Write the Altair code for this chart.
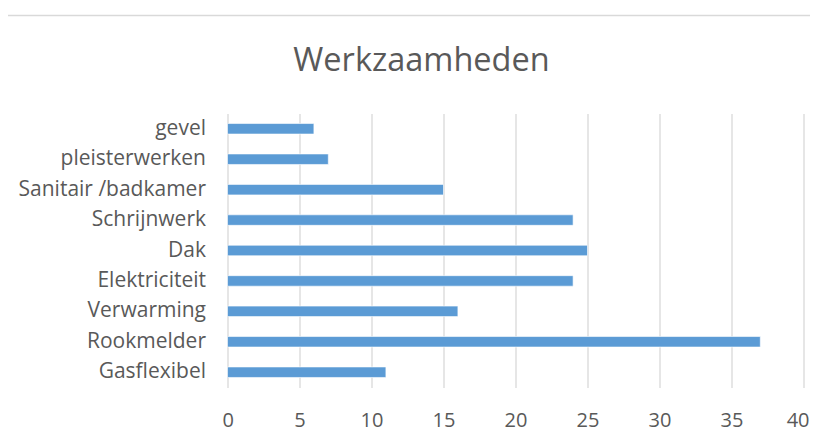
import altair as alt
import pandas as pd

categories = ["gevel", "pleisterwerken", "Sanitair /badkamer", "Schrijnwerk", "Dak",
              "Elektriciteit", "Verwarming", "Rookmelder", "Gasflexibel"]
values = [6, 7, 15, 24, 25, 24, 16, 37, 11]
x_ticks = [0, 5, 10, 15, 20, 25, 30, 35, 40]
title_text = "Werkzaamheden"

df = pd.DataFrame({"cat": categories, "val": values})

FONT = "Open Sans"
TXT = "#595959"

bars = alt.Chart(df).mark_bar(color="#5B9BD5", stroke="#ffffff", strokeWidth=0.6).encode(
    y=alt.Y("cat:N", sort=categories, title=None,
            scale=alt.Scale(paddingInner=0.655, paddingOuter=0.33),
            axis=alt.Axis(domain=False, ticks=False, labelPadding=22, labelFontSize=21,
                          labelLimit=300, labelColor=TXT, labelFont=FONT, grid=False)),
    x=alt.X("val:Q", title=None,
            scale=alt.Scale(domain=[0, 40], nice=False),
            axis=alt.Axis(values=x_ticks, domain=False, ticks=False, labelPadding=23,
                          labelFontSize=20, labelColor=TXT, labelFont=FONT,
                          labelFlush=True, labelFlushOffset=5.5,
                          grid=True, gridColor="#D9D9D9", gridWidth=1.3)),
)

top_line = alt.Chart(pd.DataFrame({"a": [0]})).mark_rule(color="#D9D9D9", strokeWidth=1.5).encode(
    x=alt.value(-226), x2=alt.value(583), y=alt.value(-98)
)

title_mark = alt.Chart(pd.DataFrame({"t": [title_text]})).mark_text(
    fontSize=32.5, font=FONT, color=TXT, align="center", baseline="alphabetic"
).encode(text="t:N", x=alt.value(194), y=alt.value(-42.5))

chart = alt.layer(bars, top_line, title_mark).properties(
    width=576, height=274,
    autosize=alt.AutoSizeParams(type="none"),
    padding={"left": 219.5, "top": 105.5, "right": 6, "bottom": 44},
).configure_view(stroke=None)

chart.save("out.html", embed_options={"renderer": "svg", "actions": False})
